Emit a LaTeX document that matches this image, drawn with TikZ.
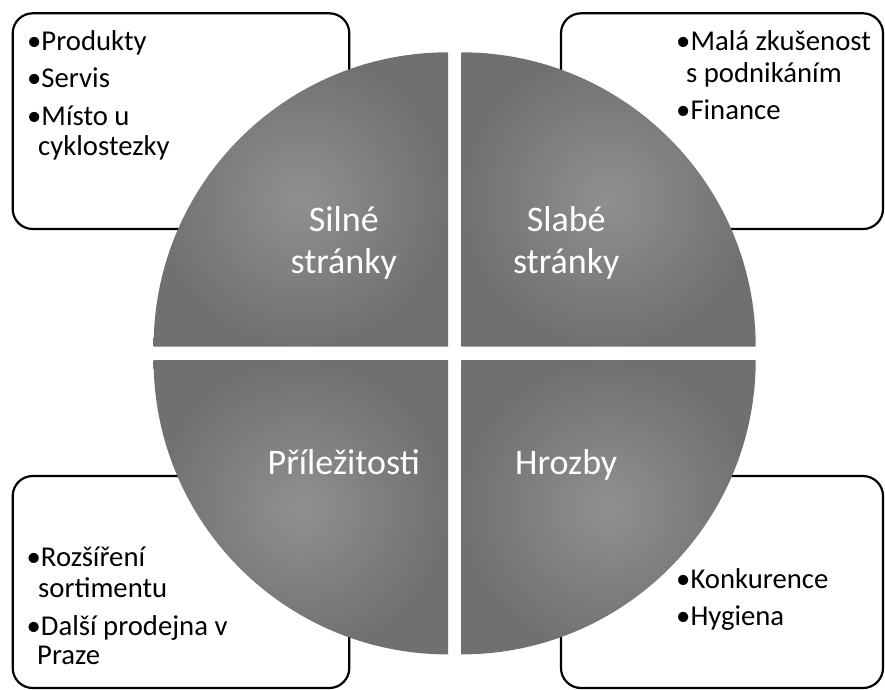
\documentclass[tikz,border=0pt]{standalone}
\usepackage{fontspec}
\setmainfont{Carlito}
\usepackage{tikz}
\usetikzlibrary{positioning}

\definecolor{qlight}{RGB}{144,144,144}
\definecolor{qdark}{RGB}{112,112,112}
\def\qrad{294.4}

\begin{document}
\begin{tikzpicture}[x=1pt,y=-1pt]
  \tikzstyle{box}=[draw=black,line width=2.2pt,rounded corners=20pt,fill=white]
  \tikzstyle{quad}=[shading=radial,inner color=qlight,outer color=qdark]
  \tikzstyle{lab}=[text=white,anchor=base,inner sep=0pt,font=\fontsize{36}{42}\selectfont]
  \tikzstyle{item}=[anchor=base west,inner sep=0pt,font=\fontsize{28.7}{30}\selectfont]

  \useasboundingbox (0,0) rectangle (885,689);

  % boxes behind the circle
  \draw[box] (12.7,13.3) rectangle (349.3,229);
  \draw[box] (561,13.3) rectangle (883,229);
  \draw[box] (12.7,476) rectangle (349.3,688);
  \draw[box] (561,476) rectangle (883,688);

  \coordinate (ctl) at (448,346.7);
  \coordinate (ctr) at (461.3,346.7);
  \coordinate (cbl) at (448,360);
  \coordinate (cbr) at (461.3,360);

  % the four quarters
  \shade[quad] (ctl) -- ++(-\qrad,0) arc[start angle=180,end angle=270,radius=\qrad] -- cycle;
  \shade[quad] (ctr) -- ++(0,-\qrad) arc[start angle=270,end angle=360,radius=\qrad] -- cycle;
  \shade[quad] (cbr) -- ++(\qrad,0) arc[start angle=0,end angle=90,radius=\qrad] -- cycle;
  \shade[quad] (cbl) -- ++(0,\qrad) arc[start angle=90,end angle=180,radius=\qrad] -- cycle;

  \node[lab] (silne)  at (343.8,231.6) {Silné};
  \node[lab] (silne2) at (343.8,273.7) {stránky};
  \node[lab] (slabe)  at (566.2,231.6) {Slabé};
  \node[lab] (slabe2) at (566.2,273.7) {stránky};
  \node[lab] (prilez) at (343.8,474.5) {Příležitosti};
  \node[lab] (hrozby) at (566.2,474.5) {Hrozby};

  % strengths
  \node[item] (s1) at (27,50)   {•Produkty};
  \node[item] (s2) at (27,87.5) {•Servis};
  \node[item] (s3) at (27,125)  {•Místo u};
  \node[item] (s4) at (38,155)  {cyklostezky};
  % weaknesses
  \node[item] (w1) at (676,50)  {•Malá zkušenost};
  \node[item] (w2) at (686,82)  {s podnikáním};
  \node[item] (w3) at (676,119.5) {•Finance};
  % opportunities
  \node[item] (o1) at (26.5,566.7) {•Rozšíření};
  \node[item] (o2) at (38,597)     {sortimentu};
  \node[item] (o3) at (26.5,635)   {•Další prodejna v};
  \node[item] (o4) at (37,664)     {Praze};
  % threats
  \node[item] (t1) at (676,588.3) {•Konkurence};
  \node[item] (t2) at (676,625.7) {•Hygiena};
\end{tikzpicture}
\end{document}
